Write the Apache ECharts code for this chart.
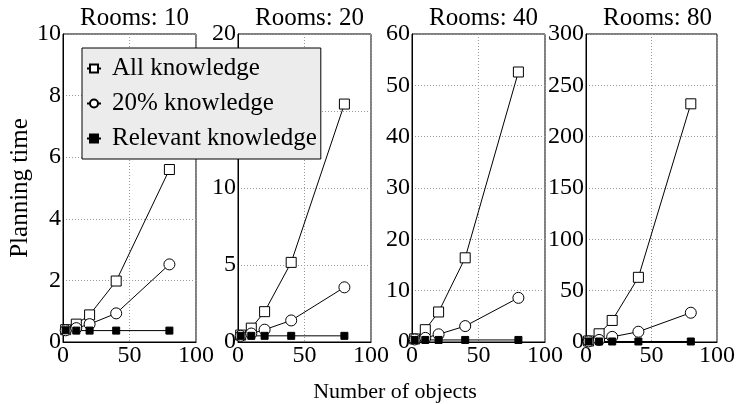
<!DOCTYPE html>
<html><head><meta charset="utf-8">
<script src="https://cdn.jsdelivr.net/npm/echarts@6/dist/echarts.min.js"></script>
<style>html,body{margin:0;padding:0;background:#fff}#c{width:738px;height:404px}</style>
</head><body><div id="c"></div>
<script>
const xObjects = [2, 10, 20, 40, 80];
const rooms = [10, 20, 40, 80];
const allKnowledge = [
  [0.4, 0.58, 0.88, 1.98, 5.6],
  [0.45, 0.9, 1.97, 5.17, 15.45],
  [0.6, 2.4, 5.85, 16.4, 52.6],
  [1.0, 8, 21, 63, 232]
];
const pct20Knowledge = [
  [0.38, 0.45, 0.58, 0.93, 2.52],
  [0.4, 0.55, 0.8, 1.4, 3.55],
  [0.5, 0.8, 1.5, 3.1, 8.6],
  [0.6, 2, 5, 10, 28.5]
];
const relevantKnowledge = [
  [0.38, 0.37, 0.37, 0.37, 0.37],
  [0.4, 0.4, 0.4, 0.4, 0.4],
  [0.4, 0.4, 0.4, 0.4, 0.4],
  [0.5, 0.5, 0.5, 0.5, 0.5]
];
const yMax = [10, 20, 60, 300];
const yInterval = [2, 5, 10, 50];
const seriesNames = ['All knowledge', '20% knowledge', 'Relevant knowledge'];

const FONT = 'Liberation Serif';
const gridLefts = [63, 238, 412, 586];
const gridW = 133;
const grids = gridLefts.map(l => ({left: l, width: gridW, top: 34, height: 308, show: true, borderColor: '#000', borderWidth: 1}));
const xAxes = rooms.map((r, i) => ({
  type: 'value', gridIndex: i, min: 0, max: 100, interval: 50,
  axisLine: {show: true, lineStyle: {color: '#000'}},
  axisTick: {show: false},
  splitLine: {show: true, lineStyle: {color: '#999', type: [1, 2], width: 1}},
  axisLabel: {color: '#000', fontFamily: FONT, fontSize: 24, margin: 2, showMinLabel: true, showMaxLabel: true}
}));
const yAxes = rooms.map((r, i) => ({
  type: 'value', gridIndex: i, min: 0, max: yMax[i], interval: yInterval[i],
  name: i === 0 ? 'Planning time' : '', nameLocation: 'middle', nameGap: 30,
  nameTextStyle: {color: '#000', fontFamily: FONT, fontSize: 25},
  axisLine: {show: true, lineStyle: {color: '#000'}},
  axisTick: {show: false},
  splitLine: {show: true, lineStyle: {color: '#999', type: [1, 2], width: 1}},
  axisLabel: {color: '#000', fontFamily: FONT, fontSize: 24, margin: 2, showMinLabel: true, showMaxLabel: true}
}));
const series = [];
const datasets = [allKnowledge, pct20Knowledge, relevantKnowledge];
const symbols = ['rect', 'circle', 'rect'];
const sizes = [10, 11, 7];
const fills = ['#fff', '#fff', '#000'];
rooms.forEach((r, i) => {
  datasets.forEach((d, k) => {
    series.push({
      name: seriesNames[k], type: 'line', xAxisIndex: i, yAxisIndex: i,
      data: xObjects.map((x, j) => [x, d[i][j]]),
      symbol: symbols[k], symbolSize: sizes[k], showAllSymbol: true,
      lineStyle: {color: '#000', width: 1},
      itemStyle: {color: fills[k], borderColor: '#000', borderWidth: 1},
      animation: false, z: 3
    });
  });
});
const titles = rooms.map((r, i) => ({
  text: 'Rooms: ' + r, left: gridLefts[i] + gridW / 2, top: 1, textAlign: 'center',
  textStyle: {color: '#000', fontFamily: FONT, fontSize: 25, fontWeight: 'normal'}
}));
titles.push({text: 'Number of objects', left: 390, top: 376, textAlign: 'center',
  textStyle: {color: '#000', fontFamily: FONT, fontSize: 22, fontWeight: 'normal'}});

const chart = echarts.init(document.getElementById('c'), null, {renderer: 'canvas'});
chart.setOption({
  animation: false,
  backgroundColor: '#fff',
  title: titles,
  legend: {
    data: seriesNames, orient: 'vertical', left: 82, top: 48,
    backgroundColor: '#ececec', borderColor: '#000', borderWidth: 1,
    padding: [8, 4, 8, 4], itemGap: 10, itemWidth: 14, itemHeight: 10,
    textStyle: {color: '#000', fontFamily: FONT, fontSize: 25, padding: [0, 0, 0, 6]}, z: 10,
    selectedMode: false
  },
  grid: grids, xAxis: xAxes, yAxis: yAxes, series: series
});
</script></body></html>
